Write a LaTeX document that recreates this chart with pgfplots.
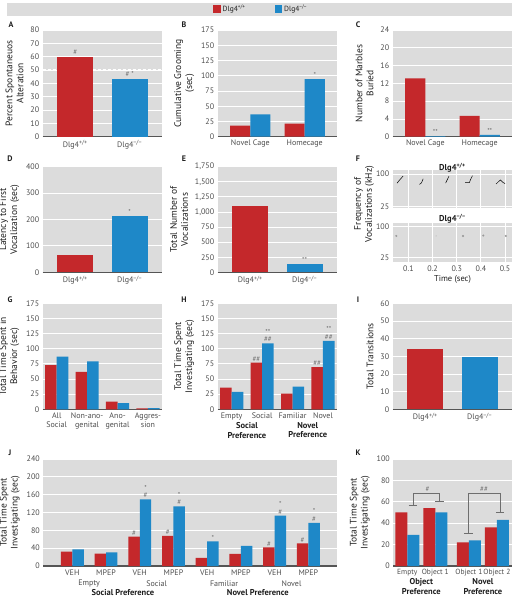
\documentclass[border=0pt]{standalone}
\usepackage{pgfplots}
\pgfplotsset{compat=1.18}
\usepackage{fontspec}
\setmainfont{PT Sans}
\definecolor{cred}{HTML}{C4282B}
\definecolor{cblue}{HTML}{1E88C8}
\definecolor{bg}{HTML}{DCDCDC}
\definecolor{tickc}{HTML}{4D4D4D}
\definecolor{labc}{HTML}{1E1E1E}
\definecolor{annc}{HTML}{6E6E6E}
\definecolor{axl}{HTML}{555555}
\tikzset{ann/.style={font=\fontsize{7}{7}\selectfont, text=annc, inner sep=0.6pt, anchor=south, align=center},
  plet/.style={font=\fontsize{8}{9}\selectfont\bfseries, text=labc, inner sep=0},
  grp/.style={font=\fontsize{8}{9}\selectfont, text=tickc, inner sep=0, anchor=center},
  bgrp/.style={font=\fontsize{8.5}{9.5}\selectfont\bfseries, text=labc, inner sep=0, anchor=north, align=center},
  ftit/.style={font=\fontsize{8.5}{9}\selectfont\bfseries, text=labc, inner sep=0}}
\pgfplotsset{
  panel/.style={
    scale only axis, anchor=south west,
    axis background/.style={fill=bg},
    axis x line*=bottom, axis y line*=left,
    x axis line style={-, draw=axl, line width=1.2pt},
    y axis line style={draw=none},
    ymajorgrids, major grid style={white, line width=0.8pt},
    tick style={draw=none},
    ymin=0, clip=false,
    /pgf/number format/assume math mode=true,
    yticklabel style={font=\fontsize{8}{9}\selectfont, text=tickc},
    xticklabel style={font=\fontsize{8}{9}\selectfont, text=tickc, align=center},
    ylabel style={font=\fontsize{9.5}{11}\selectfont, text=labc, align=center},
  },
  fpanel/.style={
    scale only axis, anchor=south west,
    axis background/.style={fill=bg},
    axis line style={draw=none},
    xmajorgrids, ymajorgrids, major grid style={white, line width=0.8pt},
    tick style={draw=none},
    xmin=0.035, xmax=0.53, xtick={0.1,0.2,0.3,0.4,0.5}, ytick={25,100},
    clip=false,
    /pgf/number format/assume math mode=true,
    yticklabel style={font=\fontsize{8}{9}\selectfont, text=tickc},
    xticklabel style={font=\fontsize{8}{9}\selectfont, text=tickc},
    xlabel style={font=\fontsize{8.5}{9}\selectfont, text=labc},
  },
  rb/.style={ybar, fill=cred, draw=none, bar width=#1},
  bb/.style={ybar, fill=cblue, draw=none, bar width=#1},
}
\begin{document}
\begin{tikzpicture}
\useasboundingbox (0,0) rectangle (519pt,600pt);
% legend
\fill[bg] (7pt,584.3pt) rectangle (512pt,597pt);
\fill[cred] (213pt,587pt) rectangle (220.5pt,594.5pt);
\node[anchor=west, font=\fontsize{7.5}{8}\selectfont, text=labc, inner sep=0] at (222.5pt,590.7pt) {Dlg4\textsuperscript{+/+}};
\fill[cblue] (274.5pt,587pt) rectangle (282pt,594.5pt);
\node[anchor=west, font=\fontsize{7.5}{8}\selectfont, text=labc, inner sep=0] at (284pt,590.7pt) {Dlg4\textsuperscript{−/−}};
% panel letters
\node[plet] at (11pt,575pt) {A};
\node[plet] at (184pt,575pt) {B};
\node[plet] at (358pt,575pt) {C};
\node[plet] at (10pt,441pt) {D};
\node[plet] at (184pt,441pt) {E};
\node[plet] at (358pt,441pt) {F};
\node[plet] at (10pt,300.7pt) {G};
\node[plet] at (184pt,300.7pt) {H};
\node[plet] at (358pt,300.7pt) {I};
\node[plet] at (10pt,147.3pt) {J};
\node[plet] at (358pt,147.3pt) {K};

% ---------- A
\begin{axis}[panel, at={(42.7pt,463.3pt)}, width=119.6pt, height=106.7pt,
  xmin=-0.6, xmax=1.6, ymax=80, ytick={0,10,...,80},
  xtick={0,1}, xticklabels={Dlg4\textsuperscript{+/+}, Dlg4\textsuperscript{−/−}},
  ylabel={Percent Spontaneuos\\Alteration}]
\addplot[white, line width=1.4pt, dash pattern=on 3pt off 2pt] coordinates {(-0.6,50) (1.6,50)};
\addplot[rb=0.66, bar shift=0] coordinates {(0,60)};
\addplot[bb=0.66, bar shift=0] coordinates {(1,43.5)};
\node[ann] at (axis cs:0,61) {\#};
\node[ann] at (axis cs:1,44.5) {\# *};
\end{axis}
% ---------- B
\begin{axis}[panel, at={(217.7pt,463.3pt)}, width=119.6pt, height=106.7pt,
  xmin=-0.6, xmax=1.6, ymax=175, ytick={0,25,...,175},
  xtick={0,1}, xticklabels={Novel Cage, Homecage},
  ylabel={Cumulative Grooming\\(sec)}]
\addplot[rb=0.37, bar shift=-0.185] coordinates {(0,18) (1,21.3)};
\addplot[bb=0.37, bar shift=0.185] coordinates {(0,36.7) (1,94.6)};
\node[ann] at (axis cs:1.185,96) {*};
\end{axis}
% ---------- C
\begin{axis}[panel, at={(392.7pt,463.3pt)}, width=119.6pt, height=106.7pt,
  xmin=-0.6, xmax=1.6, ymax=24, ytick={0,4,...,24},
  xtick={0,1}, xticklabels={Novel Cage, Homecage},
  ylabel={Number of Marbles\\Buried}]
\addplot[rb=0.37, bar shift=-0.185] coordinates {(0,13.1) (1,4.7)};
\addplot[bb=0.37, bar shift=0.185] coordinates {(0,0.15) (1,0.4)};
\node[ann] at (axis cs:0.185,0.4) {**};
\node[ann] at (axis cs:1.185,0.6) {**};
\end{axis}
% ---------- D
\begin{axis}[panel, at={(42.7pt,327.7pt)}, width=119.6pt, height=105.6pt,
  xmin=-0.6, xmax=1.6, ymax=400, ytick={0,100,...,400},
  xtick={0,1}, xticklabels={Dlg4\textsuperscript{+/+}, Dlg4\textsuperscript{−/−}},
  ylabel={Latency to First\\Vocalization (sec)}]
\addplot[rb=0.66, bar shift=0] coordinates {(0,65.5)};
\addplot[bb=0.66, bar shift=0] coordinates {(1,214)};
\node[ann] at (axis cs:1,216) {*};
\end{axis}
% ---------- E
\begin{axis}[panel, at={(217.7pt,327.7pt)}, width=119.6pt, height=105.6pt,
  xmin=-0.6, xmax=1.6, ymax=1750, ytick={0,250,...,1750},
  xtick={0,1}, xticklabels={Dlg4\textsuperscript{+/+}, Dlg4\textsuperscript{−/−}},
  ylabel={Total Number of\\Vocalizations}]
\addplot[rb=0.66, bar shift=0] coordinates {(0,1100)};
\addplot[bb=0.66, bar shift=0] coordinates {(1,140)};
\node[ann] at (axis cs:1,150) {**};
\end{axis}
% ---------- F top
\begin{axis}[fpanel, at={(392.7pt,392pt)}, width=119.6pt, height=38pt,
  ymin=22, ymax=109, xticklabels={}]
\addplot[black, line width=0.5pt] coordinates {(0.053,79) (0.065,87) (0.078,95)};
\addplot[black, line width=0.5pt] coordinates {(0.146,76) (0.153,79) (0.157,83) (0.161,89)};
\addplot[black, line width=0.5pt] coordinates {(0.254,79) (0.261,87) (0.268,95)};
\addplot[black, line width=0.5pt] coordinates {(0.335,80) (0.352,80) (0.358,88) (0.365,96)};
\addplot[black, line width=0.5pt] coordinates {(0.463,77) (0.474,83) (0.481,86) (0.49,81) (0.5,78)};
\end{axis}
% ---------- F bottom
\begin{axis}[fpanel, at={(392.7pt,338pt)}, width=119.6pt, height=39.3pt,
  ymin=15, ymax=110, xlabel={Time (sec)},
  xlabel style={yshift=3pt}]
\addplot[only marks, mark=*, mark size=0.8pt, color=black!40] coordinates {(0.05,78) (0.326,78) (0.41,79) (0.503,78)};
\addplot[only marks, mark=*, mark size=0.5pt, color=black!20] coordinates {(0.215,78)};
\end{axis}
\node[ftit] at (452.5pt,432.5pt) {Dlg4\textsuperscript{+/+}};
\node[ftit] at (452.5pt,381pt) {Dlg4\textsuperscript{−/−}};
\node[rotate=90, align=center, font=\fontsize{9.5}{11}\selectfont, text=labc] at (364pt,396pt) {Frequency of\\Vocalizations (kHz)};
% ---------- G
\begin{axis}[panel, at={(42.7pt,190.7pt)}, width=119.6pt, height=106pt,
  xmin=-0.46, xmax=3.47, ymax=175, ytick={0,25,...,175},
  xtick={0,1,2,3}, xticklabels={{All\\Social},{Non-ano-\\genital},{Ano-\\genital},{Aggres-\\sion}},
  ylabel={Total Time Spent in\\Behavior (sec)}]
\addplot[rb=0.38, bar shift=-0.19] coordinates {(0,73) (1,61.6) (2,12.5) (3,1.5)};
\addplot[bb=0.38, bar shift=0.19] coordinates {(0,87) (1,79) (2,10) (3,2)};
\end{axis}
% ---------- H
\begin{axis}[panel, at={(217.7pt,190.7pt)}, width=119.6pt, height=106pt,
  xmin=-0.46, xmax=3.47, ymax=175, ytick={0,25,...,175},
  xtick={0,1,2,3}, xticklabels={Empty,Social,Familiar,Novel},
  ylabel={Total Time Spent\\Investigating (sec)}]
\addplot[rb=0.38, bar shift=-0.19] coordinates {(0,35.7) (1,77) (2,25.8) (3,69.8)};
\addplot[bb=0.38, bar shift=0.19] coordinates {(0,28.6) (1,109) (2,37.3) (3,112.8)};
\node[ann] at (axis cs:0.81,78) {\#\#};
\node[ann] at (axis cs:2.81,71) {\#\#};
\node[ann, font=\fontsize{7}{7.5}\selectfont] at (axis cs:1.19,110) {**\\\#\#};
\node[ann, font=\fontsize{7}{7.5}\selectfont] at (axis cs:3.19,114) {**\\\#\#};
\node[bgrp] at (axis cs:0.5,0) [yshift=-13pt] {Social\\Preference};
\node[bgrp] at (axis cs:2.5,0) [yshift=-13pt] {Novel\\Preference};
\end{axis}
% ---------- I
\begin{axis}[panel, at={(392.7pt,190.7pt)}, width=119.6pt, height=106pt,
  xmin=-0.6, xmax=1.6, ymax=60, ytick={0,10,...,60},
  xtick={0,1}, xticklabels={Dlg4\textsuperscript{+/+}, Dlg4\textsuperscript{−/−}},
  ylabel={Total Transitions}]
\addplot[rb=0.66, bar shift=0] coordinates {(0,34.3)};
\addplot[bb=0.66, bar shift=0] coordinates {(1,29.4)};
\end{axis}
% ---------- J
\begin{axis}[panel, at={(43.3pt,34pt)}, width=293.4pt, height=107pt,
  xmin=-0.86, xmax=7.84, ymax=240, ytick={0,40,...,240},
  xtick={0,1,...,7}, xticklabels={VEH,MPEP,VEH,MPEP,VEH,MPEP,VEH,MPEP},
  ylabel={Total Time Spent\\Investigating (sec)}]
\addplot[rb=0.34, bar shift=-0.17] coordinates {(0,32) (1,27.6) (2,65.8) (3,67.3) (4,18) (5,27) (6,42) (7,51)};
\addplot[bb=0.34, bar shift=0.17] coordinates {(0,37.4) (1,30.7) (2,149.6) (3,134) (4,55.3) (5,45) (6,113) (7,97)};
\node[ann] at (axis cs:1.83,67) {\#};
\node[ann] at (axis cs:2.83,68.5) {\#};
\node[ann] at (axis cs:5.83,43) {\#};
\node[ann] at (axis cs:6.83,52) {\#};
\node[ann, font=\fontsize{7}{7.5}\selectfont] at (axis cs:2.17,151) {*\\\#};
\node[ann, font=\fontsize{7}{7.5}\selectfont] at (axis cs:3.17,135.5) {*\\\#};
\node[ann] at (axis cs:4.17,56.5) {*};
\node[ann, font=\fontsize{7}{7.5}\selectfont] at (axis cs:6.17,114.5) {*\\\#};
\node[ann, font=\fontsize{7}{7.5}\selectfont] at (axis cs:7.17,98.5) {*\\\#};
\node[grp] at (axis cs:0.5,0) [yshift=-17.3pt] {Empty};
\node[grp] at (axis cs:2.5,0) [yshift=-17.3pt] {Social};
\node[grp] at (axis cs:4.5,0) [yshift=-17.3pt] {Familiar};
\node[grp] at (axis cs:6.5,0) [yshift=-17.3pt] {Novel};
\node[bgrp, anchor=center] at (axis cs:1.5,0) [yshift=-26.7pt] {Social Preference};
\node[bgrp, anchor=center] at (axis cs:5.5,0) [yshift=-26.7pt] {Novel Preference};
\end{axis}
% ---------- K
\begin{axis}[panel, at={(393.3pt,34pt)}, width=119pt, height=107pt,
  xmin=-0.5, xmax=3.75, ymax=100, ytick={0,20,...,100},
  xtick={0,1,2.2,3.2}, xticklabels={Empty,Object 1,Object 1,Object 2},
  xticklabel style={font=\fontsize{7.5}{8.5}\selectfont},
  ylabel={Total Time Spent\\Investigating (sec)}]
\addplot[rb=0.43, bar shift=-0.215] coordinates {(0,50) (1,54) (2.2,22) (3.2,36)};
\addplot[bb=0.43, bar shift=0.215] coordinates {(0,29) (1,50) (2.2,24) (3.2,43)};
\addplot[annc, line width=0.8pt] coordinates {(0.2,56.4) (0.2,68) (1.15,68) (1.15,60)};
\addplot[annc, line width=0.8pt] coordinates {(0.05,56.4) (0.35,56.4)};
\addplot[annc, line width=0.8pt] coordinates {(1.0,60) (1.3,60)};
\addplot[annc, line width=0.8pt] coordinates {(2.18,30.5) (2.18,68) (3.31,68) (3.31,50)};
\addplot[annc, line width=0.8pt] coordinates {(2.03,30.5) (2.33,30.5)};
\addplot[annc, line width=0.8pt] coordinates {(3.16,50) (3.46,50)};
\node[ann] at (axis cs:0.72,69) {\#};
\node[ann] at (axis cs:2.74,69) {\#\#};
\node[bgrp] at (axis cs:0.5,0) [yshift=-12.5pt] {Object\\Preference};
\node[bgrp] at (axis cs:2.7,0) [yshift=-12.5pt] {Novel\\Preference};
\end{axis}
\end{tikzpicture}
\end{document}
